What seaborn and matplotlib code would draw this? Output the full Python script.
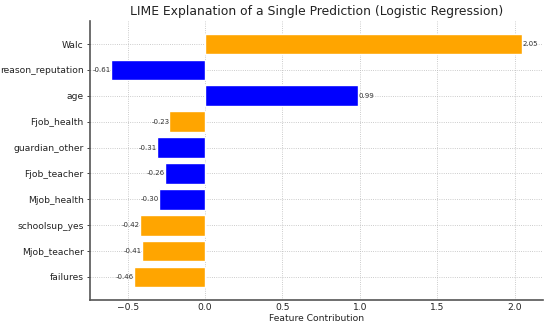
import matplotlib
matplotlib.use("Agg")
import matplotlib.pyplot as plt
import seaborn as sns
import pandas as pd

features = ["Walc", "reason_reputation", "age", "Fjob_health", "guardian_other",
            "Fjob_teacher", "Mjob_health", "schoolsup_yes", "Mjob_teacher", "failures"]
contributions = [2.05, -0.61, 0.99, -0.23, -0.31, -0.26, -0.30, -0.42, -0.41, -0.46]
bar_colors = ["orange", "blue", "blue", "orange", "blue",
              "blue", "blue", "orange", "orange", "orange"]

df = pd.DataFrame({"feature": features, "value": contributions})

sns.set_theme(style="whitegrid")
plt.rcParams["font.family"] = ["DejaVu Sans"]

fig = plt.figure(figsize=(5.5, 3.28), dpi=100)
ax = fig.add_axes([0.1636, 0.0854, 0.8234, 0.8506])

sns.barplot(data=df, x="value", y="feature", hue="feature", palette=bar_colors,
            legend=False, width=0.8, orient="h", ax=ax, saturation=1)

for i, v in enumerate(contributions):
    ax.text(v, i, f"{v:.2f}", ha="left" if v >= 0 else "right", va="center",
            fontsize=5, color="#333333")

ax.set_ylim(9.89, -0.89)
ax.set_xlim(-0.743, 2.183)
ax.set_title("LIME Explanation of a Single Prediction (Logistic Regression)",
             fontsize=8.9, color="#222222", pad=4)
ax.set_xlabel("Feature Contribution", fontsize=6.6, color="#222222", labelpad=1)
ax.set_ylabel("")
ax.tick_params(axis="y", labelsize=6.6, colors="#222222", length=2.5, width=0.6,
               pad=2, left=True)
ax.tick_params(axis="x", labelsize=6.6, colors="#222222", length=0, pad=2.5,
               bottom=False)
ax.grid(True, linestyle=":", color="#bbbbbb", linewidth=0.6)
for s in ["top", "right"]:
    ax.spines[s].set_visible(False)
for s in ["left", "bottom"]:
    ax.spines[s].set_visible(True)
    ax.spines[s].set_color("#555555")
    ax.spines[s].set_linewidth(1.2)

fig.savefig("out.png", dpi=100)
